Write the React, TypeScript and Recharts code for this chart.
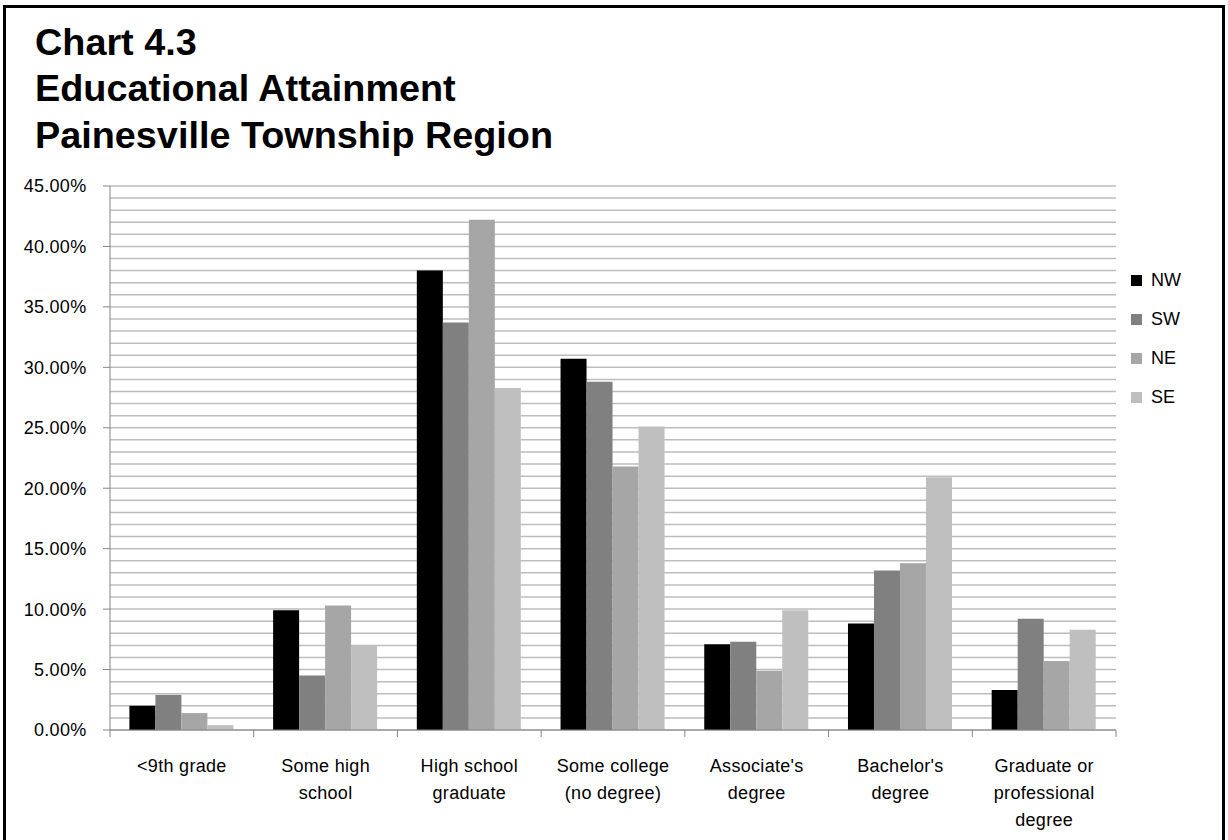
import React from 'react';
import { BarChart, Bar, XAxis, YAxis, CartesianGrid, Legend } from 'recharts';

const categories = [
  '<9th grade',
  'Some high\nschool',
  'High school\ngraduate',
  'Some college\n(no degree)',
  "Associate's\ndegree",
  "Bachelor's\ndegree",
  'Graduate or\nprofessional\ndegree',
];
const nwValues = [2.0, 9.9, 38.0, 30.7, 7.1, 8.8, 3.3];
const swValues = [2.9, 4.5, 33.7, 28.8, 7.3, 13.2, 9.2];
const neValues = [1.4, 10.3, 42.2, 21.8, 4.9, 13.8, 5.7];
const seValues = [0.4, 7.0, 28.3, 25.1, 9.9, 20.9, 8.3];
const seriesNames = ['NW', 'SW', 'NE', 'SE'];
const seriesColors = ['#000000', '#808080', '#a6a6a6', '#bfbfbf'];
const yMajorTicks = [0, 5, 10, 15, 20, 25, 30, 35, 40, 45];
const yGridTicks = Array.from({ length: 46 }, (_, i) => i);
const titleLines = ['Chart 4.3', 'Educational Attainment', 'Painesville Township Region'];

const seriesValues = [nwValues, swValues, neValues, seValues];
const data = categories.map((c, i) => {
  const row: Record<string, any> = { category: c };
  seriesNames.forEach((s, k) => {
    row[s] = seriesValues[k][i];
  });
  return row;
});

const FONT = '"Liberation Sans", Arial, sans-serif';
const AXIS = '#868686';

const YTick = (props: any) => {
  const { x, y, payload } = props;
  if (!yMajorTicks.includes(payload.value)) return <g />;
  return (
    <g>
      <line x1={x - 7} x2={x} y1={y} y2={y} stroke={AXIS} strokeWidth={1} />
      <text
        x={x - 23.5}
        y={y}
        dy="0.36em"
        textAnchor="end"
        fontFamily={FONT}
        fontSize={18}
        fill="#000"
        letterSpacing={0.3}
      >
        {`${payload.value.toFixed(2)}%`}
      </text>
    </g>
  );
};

const XTick = (props: any) => {
  const { x, y, payload, index, width, visibleTicksCount } = props;
  const count = visibleTicksCount || categories.length;
  const half = (width || 1006) / count / 2;
  const lines = String(payload.value).split('\n');
  return (
    <g>
      <line x1={x - half} x2={x - half} y1={y} y2={y + 7} stroke={AXIS} strokeWidth={1} />
      {index === count - 1 && (
        <line x1={x + half} x2={x + half} y1={y} y2={y + 7} stroke={AXIS} strokeWidth={1} />
      )}
      <text textAnchor="middle" fontFamily={FONT} fontSize={18} fill="#000" letterSpacing={0.3}>
        {lines.map((l, i) => (
          <tspan key={i} x={x} y={y + 42 + i * 26.8}>
            {l}
          </tspan>
        ))}
      </text>
    </g>
  );
};

const renderLegend = () => (
  <div style={{ fontFamily: FONT }}>
    {seriesNames.map((s, i) => (
      <div key={s} style={{ height: 39.3, display: 'flex', alignItems: 'center' }}>
        <div style={{ width: 11, height: 11, background: seriesColors[i], marginRight: 9 }} />
        <span style={{ fontSize: 18, color: '#000' }}>{s}</span>
      </div>
    ))}
  </div>
);

export default function App() {
  return (
    <div
      style={{
        position: 'absolute',
        left: 0,
        top: 0,
        width: 1228,
        height: 840,
        overflow: 'hidden',
        background: '#fff',
      }}
    >
      <div
        style={{
          position: 'absolute',
          left: 3,
          top: 5,
          width: 1222,
          height: 870,
          border: '3px solid #000',
          boxSizing: 'border-box',
        }}
      />
      <div
        style={{
          position: 'absolute',
          left: 35,
          top: 18.8,
          fontFamily: FONT,
          fontWeight: 'bold',
          fontSize: 37.8,
          lineHeight: '46.5px',
          color: '#000',
          whiteSpace: 'nowrap',
        }}
      >
        {titleLines.map((t) => (
          <div key={t}>{t}</div>
        ))}
      </div>
      <div style={{ position: 'absolute', left: 0, top: 0 }}>
        <BarChart
          width={1228}
          height={840}
          data={data}
          margin={{ top: 186, right: 112, bottom: 0, left: 0 }}
          barCategoryGap="13.5%"
          barGap={0}
        >
          <CartesianGrid vertical={false} stroke="#bdbdbd" strokeWidth={1.5} />
          <XAxis
            dataKey="category"
            height={110}
            tickLine={false}
            tickSize={0}
            tickMargin={0}
            interval={0}
            axisLine={{ stroke: AXIS }}
            tick={<XTick />}
          />
          <YAxis
            width={110}
            domain={[0, 45]}
            ticks={yGridTicks}
            interval={0}
            tickLine={false}
            tickSize={0}
            tickMargin={0}
            axisLine={{ stroke: AXIS }}
            tick={<YTick />}
          />
          <Legend
            layout="vertical"
            verticalAlign="middle"
            align="center"
            content={renderLegend}
            wrapperStyle={{ position: 'absolute', left: 1131, top: 260.4, width: 90 }}
          />
          {seriesNames.map((s, i) => (
            <Bar key={s} dataKey={s} fill={seriesColors[i]} isAnimationActive={false} />
          ))}
        </BarChart>
      </div>
    </div>
  );
}
